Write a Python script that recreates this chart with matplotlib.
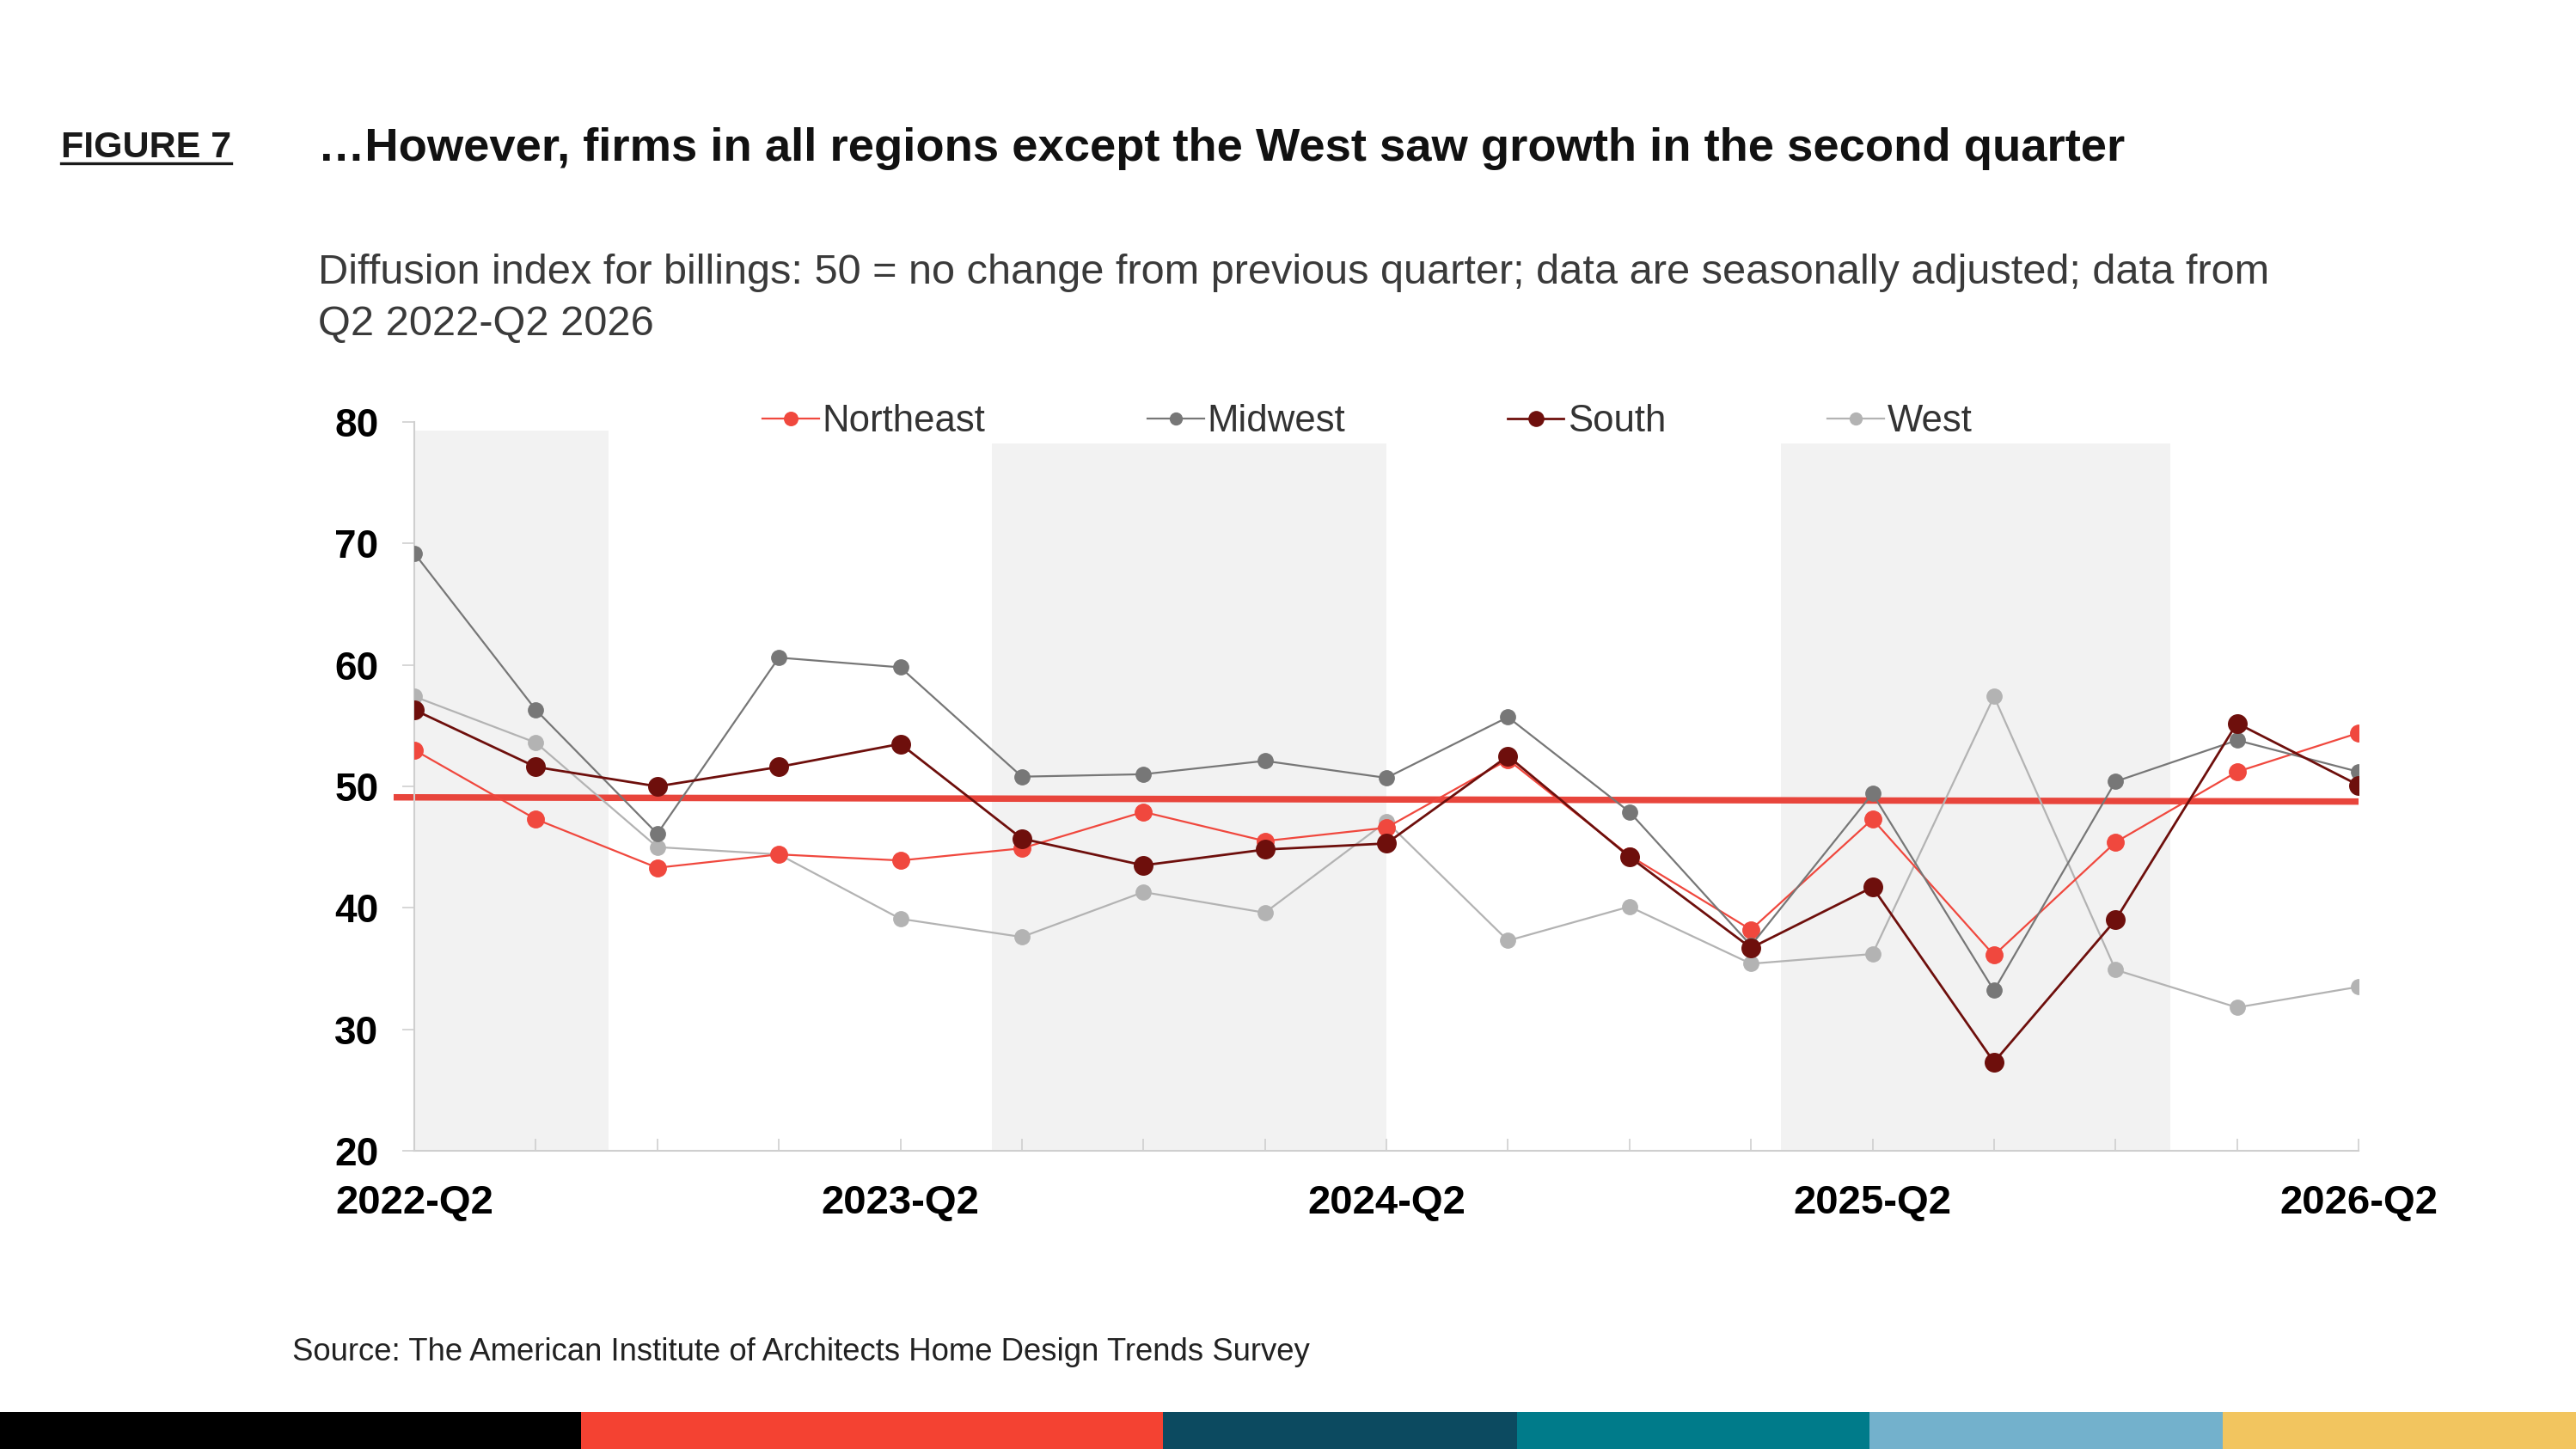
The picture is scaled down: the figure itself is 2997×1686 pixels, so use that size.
import matplotlib
matplotlib.use("Agg")
import matplotlib.pyplot as plt
from matplotlib.lines import Line2D
from matplotlib.patches import Rectangle

plt.rcParams['font.family'] = ['Liberation Sans', 'DejaVu Sans']

# ---------------- data ----------------
quarters = ["2022-Q2", "2022-Q3", "2022-Q4", "2023-Q1", "2023-Q2", "2023-Q3", "2023-Q4",
            "2024-Q1", "2024-Q2", "2024-Q3", "2024-Q4", "2025-Q1", "2025-Q2", "2025-Q3",
            "2025-Q4", "2026-Q1", "2026-Q2"]
tick_labels = ["2022-Q2", "", "", "", "2023-Q2", "", "", "", "2024-Q2", "", "", "",
               "2025-Q2", "", "", "", "2026-Q2"]
northeast = [53.0, 47.3, 43.3, 44.4, 43.9, 44.9, 47.9, 45.5, 46.6, 52.2, 44.3, 38.2, 47.3, 36.1, 45.4, 51.2, 54.4]
midwest   = [69.2, 56.3, 46.1, 60.6, 59.8, 50.8, 51.0, 52.1, 50.7, 55.7, 47.9, 36.9, 49.4, 33.2, 50.4, 53.8, 51.2]
south     = [56.3, 51.6, 50.0, 51.6, 53.5, 45.7, 43.5, 44.8, 45.3, 52.5, 44.2, 36.7, 41.7, 27.3, 39.0, 55.2, 50.1]
west      = [57.4, 53.6, 45.0, 44.4, 39.1, 37.6, 41.3, 39.6, 47.1, 37.3, 40.1, 35.4, 36.2, 57.4, 34.9, 31.8, 33.5]
ref_line_x = [-0.17, 16]
ref_line_y = [49.1, 48.75]
band_start = [0.0, 4.75, 11.25]
band_end   = [1.6, 8.0, 14.45]
band_top   = [79.3, 78.2, 78.2]
yticks = [20, 30, 40, 50, 60, 70, 80]
footer_colors = ["#000000", "#F44232", "#0C4A60", "#007B8A", "#73B1CC", "#F2C55F"]
footer_edges = [0, 676, 1353, 1765, 2175, 2586, 2997]

W, H = 2997, 1686
fig = plt.figure(figsize=(W / 100, H / 100), dpi=100)
fig.patch.set_facecolor("white")

def fx(px):
    return px / W

def fy(py):
    return 1 - py / H

ax = fig.add_axes([fx(482), fy(1339), fx(2744) - fx(482), fy(491) - fy(1339)])
ax.set_xlim(0, 16)
ax.set_ylim(20, 80)
x = list(range(len(quarters)))

# shaded bands
for s, e, t in zip(band_start, band_end, band_top):
    ax.fill_between([s, e], [20, 20], [t, t], color="#F2F2F2", lw=0, zorder=0)

# reference line
ax.plot(ref_line_x, ref_line_y, color="#E8453C", lw=5.4, zorder=2, clip_on=False,
        solid_capstyle="butt")

# series
ax.plot(x, west, color="#B3B3B3", lw=1.6, marker="o", ms=12.5, label="West", zorder=3)
ax.plot(x, northeast, color="#F0483E", lw=1.6, marker="o", ms=14, label="Northeast", zorder=4)
ax.plot(x, midwest, color="#777777", lw=1.6, marker="o", ms=12.5, label="Midwest", zorder=5)
ax.plot(x, south, color="#6E0F0C", lw=2.0, marker="o", ms=15.5, label="South", zorder=6)

# axes styling
for sp in ["top", "right"]:
    ax.spines[sp].set_visible(False)
for sp in ["left", "bottom"]:
    ax.spines[sp].set_color("#CFCFCF")
    ax.spines[sp].set_linewidth(1.5)
ax.set_yticks(yticks)
ax.set_yticklabels([str(v) for v in yticks])
ax.set_xticks(x)
ax.set_xticklabels(tick_labels)
ax.tick_params(axis="y", direction="out", length=10, width=1.2, color="#CFCFCF",
               pad=20, labelsize=33)
ax.tick_params(axis="x", direction="in", length=10, width=1.2, color="#CFCFCF",
               pad=28, labelsize=34)
for lab in ax.get_yticklabels() + ax.get_xticklabels():
    lab.set_fontweight("bold")
    lab.set_color("black")

# legend
handles, labels = ax.get_legend_handles_labels()
order = ["Northeast", "Midwest", "South", "West"]
hmap = dict(zip(labels, handles))
leg = fig.legend([hmap[k] for k in order], order, loc="center",
                 bbox_to_anchor=(fx(1591), fy(491)), ncol=4, frameon=False,
                 fontsize=31.5, handlelength=1.5, handletextpad=0.1,
                 columnspacing=4.3, markerscale=0.8)
for t in leg.get_texts():
    t.set_color("#333333")

renderer = fig.canvas.get_renderer()

def fit(t, target_w):
    w = t.get_window_extent(renderer).width
    t.set_fontsize(t.get_fontsize() * target_w / w)

# header texts
fig_lbl = fig.text(fx(71), fy(183), "FIGURE 7", fontsize=30, fontweight="bold",
                   color="#1a1a1a", va="baseline", ha="left")
fit(fig_lbl, 198)
fig.add_artist(Line2D([fx(71), fx(269)], [fy(190), fy(190)], color="#1a1a1a", lw=2.4))

title = fig.text(fx(370), fy(187),
                 "\u2026However, firms in all regions except the West saw growth in the second quarter",
                 fontsize=35, fontweight="bold", color="#111111", va="baseline", ha="left")
fit(title, 2102)

sub1 = fig.text(fx(370), fy(330),
                "Diffusion index for billings: 50 = no change from previous quarter; data are seasonally adjusted; data from",
                fontsize=30, color="#3a3a3a", va="baseline", ha="left")
fit(sub1, 2272)
sub2 = fig.text(fx(370), fy(390), "Q2 2022-Q2 2026", fontsize=sub1.get_fontsize(),
                color="#3a3a3a", va="baseline", ha="left")

src = fig.text(fx(340), fy(1583),
               "Source: The American Institute of Architects Home Design Trends Survey",
               fontsize=24, color="#222222", va="baseline", ha="left")
fit(src, 1185)

# footer color bar
for c, a, b in zip(footer_colors, footer_edges[:-1], footer_edges[1:]):
    fig.add_artist(Rectangle((fx(a), 0), fx(b) - fx(a), fy(1643), transform=fig.transFigure,
                             facecolor=c, edgecolor="none"))

fig.savefig("out.png", dpi=100, facecolor="white")
